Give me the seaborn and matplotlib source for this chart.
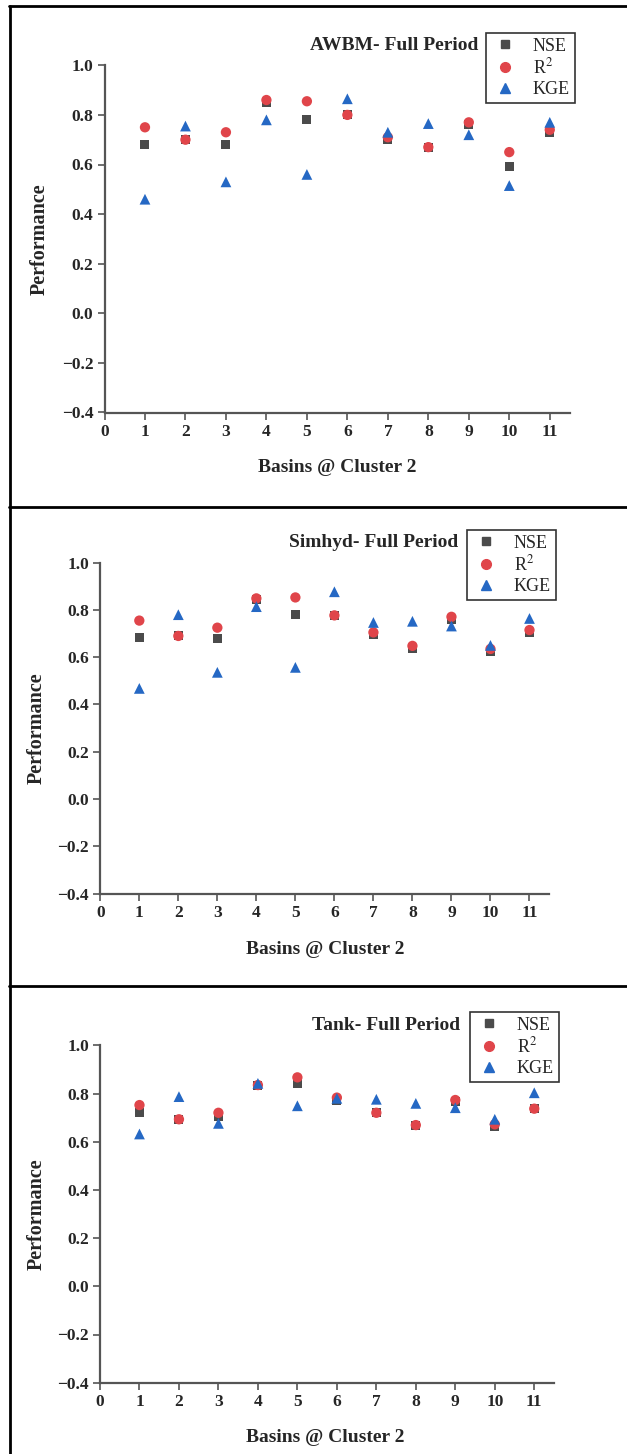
import numpy as np
import pandas as pd
import matplotlib
matplotlib.use("Agg")
import matplotlib.pyplot as plt
from matplotlib.lines import Line2D
import seaborn as sns

basins = list(range(1, 12))

awbm_nse = [0.68, 0.70, 0.68, 0.85, 0.78, 0.80, 0.70, 0.67, 0.76, 0.59, 0.73]
awbm_r2 = [0.75, 0.70, 0.73, 0.86, 0.855, 0.80, 0.71, 0.67, 0.77, 0.65, 0.74]
awbm_kge = [0.46, 0.755, 0.53, 0.78, 0.56, 0.865, 0.73, 0.765, 0.72, 0.515, 0.77]

simhyd_nse = [0.685, 0.69, 0.68, 0.843, 0.78, 0.775, 0.695, 0.636, 0.76, 0.625, 0.703]
simhyd_r2 = [0.755, 0.69, 0.725, 0.849, 0.853, 0.777, 0.705, 0.648, 0.771, 0.635, 0.715]
simhyd_kge = [0.468, 0.78, 0.536, 0.814, 0.557, 0.877, 0.747, 0.752, 0.732, 0.65, 0.764]

tank_nse = [0.72, 0.693, 0.704, 0.835, 0.84, 0.773, 0.72, 0.669, 0.765, 0.664, 0.737]
tank_r2 = [0.752, 0.693, 0.72, 0.835, 0.867, 0.783, 0.72, 0.669, 0.773, 0.672, 0.737]
tank_kge = [0.632, 0.787, 0.676, 0.842, 0.749, 0.78, 0.776, 0.759, 0.741, 0.693, 0.803]

titles = ["AWBM- Full Period", "Simhyd- Full Period", "Tank- Full Period"]
metrics = ["NSE", "R2", "KGE"]
metric_labels = ["NSE", "R$^2$", "KGE"]
y_ticks = [-0.4, -0.2, 0.0, 0.2, 0.4, 0.6, 0.8, 1.0]
x_ticks = list(range(0, 12))

models = [
    (awbm_nse, awbm_r2, awbm_kge),
    (simhyd_nse, simhyd_r2, simhyd_kge),
    (tank_nse, tank_r2, tank_kge),
]

sns.set_theme(style="white")
plt.rcParams["font.family"] = ["Liberation Serif", "DejaVu Serif"]
plt.rcParams["mathtext.fontset"] = "stix"

W, H = 627, 1454
fig = plt.figure(figsize=(W / 100, H / 100), dpi=100)

palette = {"NSE": "#4b4b4b", "R2": "#e0454a", "KGE": "#2568c4"}
markers = {"NSE": "s", "R2": "o", "KGE": "^"}
sizes = {"NSE": 42, "R2": 55, "KGE": 60}

# axes rectangles in pixels: x at 0, x at 11.5, y at 1.0, y at -0.4
panels = [
    dict(x0=104.5, x1=570.0, ytop=65.3, ybot=412.5,
         title_xy=(478, 45), legend=(486, 33), xlab=(337, 467), ylab_x=40),
    dict(x0=100.3, x1=549.0, ytop=562.7, ybot=893.5,
         title_xy=(458, 543), legend=(467, 530), xlab=(325, 950), ylab_x=37),
    dict(x0=100.0, x1=554.0, ytop=1045.3, ybot=1382.7,
         title_xy=(460, 1026), legend=(470, 1012), xlab=(325, 1438), ylab_x=37),
]

for (nse, r2, kge), title, p in zip(models, titles, panels):
    rect = [p["x0"] / W, 1 - p["ybot"] / H,
            (p["x1"] - p["x0"]) / W, (p["ybot"] - p["ytop"]) / H]
    ax = fig.add_axes(rect)
    df = pd.DataFrame({
        "Basin": basins * 3,
        "Performance": list(nse) + list(r2) + list(kge),
        "Metric": ["NSE"] * 11 + ["R2"] * 11 + ["KGE"] * 11,
    })
    for m in metrics:
        sub = df[df["Metric"] == m]
        sns.scatterplot(data=sub, x="Basin", y="Performance", ax=ax,
                        color=palette[m], marker=markers[m], s=sizes[m],
                        edgecolor="none", linewidth=0, legend=False, zorder=3)
    ax.set_xlim(0, 11.5)
    ax.set_ylim(-0.4, 1.0)
    ax.set_xticks(x_ticks)
    ax.set_yticks(y_ticks)
    ax.set_xticklabels([str(t) for t in x_ticks])
    ax.set_yticklabels([f"{t:.1f}".replace("-", "\u2212") for t in y_ticks])
    for lab in ax.get_xticklabels() + ax.get_yticklabels():
        lab.set_fontweight("bold")
        lab.set_fontsize(12.5)
    ax.tick_params(axis="both", which="major", direction="out", length=5,
                   width=1.2, color="#555555", pad=3, bottom=True, left=True)
    for side in ["top", "right"]:
        ax.spines[side].set_visible(False)
    for side in ["left", "bottom"]:
        ax.spines[side].set_color("#555555")
        ax.spines[side].set_linewidth(1.6)
    ax.set_xlabel("")
    ax.set_ylabel("")
    ax.grid(False)

    fig.text(p["xlab"][0] / W, 1 - p["xlab"][1] / H, "Basins @ Cluster 2",
             ha="center", va="center", fontsize=14, fontweight="bold")
    fig.text(p["ylab_x"] / W, 1 - (p["ytop"] + p["ybot"]) / 2 / H,
             "Performance", rotation=90, ha="center", va="center",
             fontsize=14.5, fontweight="bold")
    fig.text(p["title_xy"][0] / W, 1 - p["title_xy"][1] / H, title,
             ha="right", va="center", fontsize=14, fontweight="bold")

    handles = [Line2D([0], [0], linestyle="none", marker=markers[m],
                      color=palette[m], markersize=7 if m != "NSE" else 5.5)
               for m in metrics]
    lx0, ly0 = p["legend"]
    leg = fig.legend(handles, metric_labels, loc="upper left",
                     bbox_to_anchor=(lx0 / W, 1 - ly0 / H),
                     bbox_transform=fig.transFigure, frameon=True,
                     fontsize=13, handletextpad=0.75, borderpad=0.25,
                     labelspacing=0.18, handlelength=1.6, fancybox=False,
                     borderaxespad=0)
    leg.get_frame().set_edgecolor("black")
    leg.get_frame().set_linewidth(1.2)

# table-like frame around the three panels
frame_kw = dict(color="black", linewidth=2.0, transform=fig.transFigure)
for yy in [5.5, 507, 986]:
    fig.add_artist(Line2D([9 / W, 1], [1 - yy / H, 1 - yy / H], **frame_kw))
fig.add_artist(Line2D([9.5 / W, 9.5 / W], [0, 1 - 5.5 / H], **frame_kw))

fig.savefig("out.png", dpi=100, facecolor="white")
